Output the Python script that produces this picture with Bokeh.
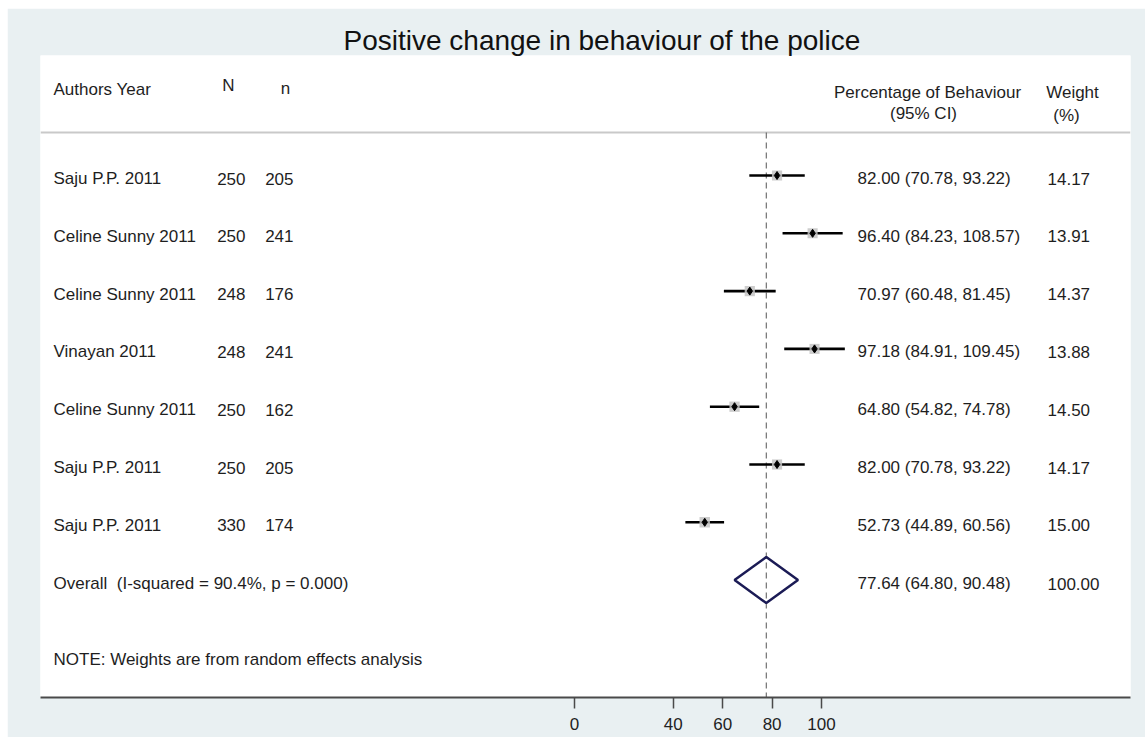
from bokeh.plotting import figure
from bokeh.models import Range1d, FixedTicker, ColumnDataSource
from bokeh.core.properties import value
from bokeh.embed import file_html
from bokeh.resources import INLINE

# ---------------- data ----------------
authors = ["Saju P.P. 2011", "Celine Sunny 2011", "Celine Sunny 2011", "Vinayan 2011",
           "Celine Sunny 2011", "Saju P.P. 2011", "Saju P.P. 2011"]
N_total = [250, 250, 248, 248, 250, 250, 330]
n_event = [205, 241, 176, 241, 162, 205, 174]
estimate = [82.00, 96.40, 70.97, 97.18, 64.80, 82.00, 52.73]
ci_low = [70.78, 84.23, 60.48, 84.91, 54.82, 70.78, 44.89]
ci_high = [93.22, 108.57, 81.45, 109.45, 74.78, 93.22, 60.56]
weights = [14.17, 13.91, 14.37, 13.88, 14.50, 14.17, 15.00]
overall_est = 77.64
overall_low = 64.80
overall_high = 90.48
overall_weight = 100.00
i_squared = 90.4
p_value = 0.000
x_ticks = [0, 40, 60, 80, 100]

title = "Positive change in behaviour of the police"
note = "NOTE: Weights are from random effects analysis"

# ---------------- layout helpers ----------------
FONT = value("Liberation Sans")
PX0, PXU = 574.0, 2.47          # page x of value 0, px per unit
ROW0, ROWH = 175.0, 57.8        # page y of first row, row pitch
FR_L, FR_R, FR_T, FR_B = 40, 1130, 55, 697
ML, MT = 7, 8                   # white strip (margin)
W, H = 1145 - ML, 737 - MT

def xd(px):
    return (px - PX0) / PXU

def yd(py):
    return (py - ROW0) / ROWH

p = figure(width=W, height=H, output_backend="svg", toolbar_location=None,
           x_range=Range1d(xd(FR_L), xd(FR_R)),
           y_range=Range1d(yd(FR_B), yd(FR_T)),
           y_axis_location=None, tools="")
p.margin = (MT, 0, 0, ML)
p.min_border_left = FR_L - ML
p.min_border_right = W - (FR_R - ML)
p.min_border_top = FR_T - MT
p.min_border_bottom = H - (FR_B - MT)
p.background_fill_color = "white"
p.border_fill_color = "#e9f0f2"
p.outline_line_color = None
p.xgrid.visible = False
p.ygrid.visible = False

# title
p.title.text = title
p.title.text_font = "Liberation Sans"
p.title.text_font_size = "28px"
p.title.text_font_style = "normal"
p.title.text_color = "#111111"
p.title.align = "left"
p.title.offset = 343 - FR_L
p.title.standoff = 0

# x axis
ax = p.xaxis[0]
ax.ticker = FixedTicker(ticks=x_ticks, minor_ticks=[])
ax.axis_line_color = "#4a4a4a"
ax.axis_line_width = 2
ax.major_tick_line_color = "#4a4a4a"
ax.major_tick_line_width = 1.5
ax.major_tick_out = 11
ax.major_tick_in = 0
ax.minor_tick_out = 0
ax.minor_tick_in = 0
ax.major_label_standoff = 9
ax.major_label_text_font = "Liberation Sans"
ax.major_label_text_font_size = "17px"
ax.major_label_text_color = "#222222"

rows = list(range(len(authors)))
overall_row = len(authors)
TXT = "#1e1e1e"
FS = "17px"

# header separator
p.segment(x0=[xd(FR_L)], y0=[yd(132)], x1=[xd(FR_R)], y1=[yd(132)],
          line_color="#c9c9c9", line_width=2)

# dashed line at overall estimate
p.segment(x0=[overall_est], y0=[yd(132)], x1=[overall_est], y1=[yd(FR_B)],
          line_color="#555555", line_width=1, line_dash="6 4")

# headers
def txt(x, y, s, align="left", size=FS, color=TXT):
    p.text(x=[x], y=[y], text=[s], text_font=FONT, text_font_size=size,
           text_color=color, text_align=align, text_baseline="middle")

txt(xd(53), yd(89), "Authors Year")
txt(xd(228), yd(85), "N", align="center")
txt(xd(285), yd(88), "n", align="center")
txt(xd(927), yd(92), "Percentage of Behaviour", align="center")
txt(xd(923), yd(113), "(95% CI)", align="center")
txt(xd(1072), yd(92), "Weight", align="center")
txt(xd(1066), yd(115), "(%)", align="center")

# study rows
src = ColumnDataSource(dict(
    row=rows,
    trow=[r + 3 / ROWH for r in rows],
    author=authors,
    N=[str(v) for v in N_total],
    n=[str(v) for v in n_event],
    est=estimate, lo=ci_low, hi=ci_high,
    ci=[f"{e:.2f} ({l:.2f}, {h:.2f})" for e, l, h in zip(estimate, ci_low, ci_high)],
    w=[f"{w:.2f}" for w in weights],
    box=[(w ** 0.5) * 2.7 for w in weights],
))

p.segment(x0="lo", y0="row", x1="hi", y1="row", source=src,
          line_color="black", line_width=2.6)
p.scatter(x="est", y="row", size="box", marker="square", source=src,
          fill_color="#c4c4c4", line_color=None, fill_alpha=0.85)
p.scatter(x="est", y="row", size=8, marker="diamond", source=src,
          fill_color="black", line_color="black")

p.text(x=xd(53), y="trow", text="author", source=src, text_font=FONT,
       text_font_size=FS, text_color=TXT, text_baseline="middle")
p.text(x=xd(245), y="trow", text="N", source=src, text_font=FONT,
       text_font_size=FS, text_color=TXT, text_baseline="middle", text_align="right")
p.text(x=xd(293), y="trow", text="n", source=src, text_font=FONT,
       text_font_size=FS, text_color=TXT, text_baseline="middle", text_align="right")
p.text(x=xd(857), y="trow", text="ci", source=src, text_font=FONT,
       text_font_size=FS, text_color=TXT, text_baseline="middle")
p.text(x=xd(1047), y="trow", text="w", source=src, text_font=FONT,
       text_font_size=FS, text_color=TXT, text_baseline="middle")

# overall diamond
dh = 23 / ROWH
p.patch(x=[overall_low, overall_est, overall_high, overall_est],
        y=[overall_row, overall_row - dh, overall_row, overall_row + dh],
        fill_color=None, line_color="#1b1b55", line_width=2.5)
oy = overall_row + 3.5 / ROWH
txt(xd(53), oy, f"Overall\u00a0 (I-squared = {i_squared:.1f}%, p = {p_value:.3f})")
txt(xd(857), oy, f"{overall_est:.2f} ({overall_low:.2f}, {overall_high:.2f})")
txt(xd(1047), oy, f"{overall_weight:.2f}")

# note
txt(xd(53), yd(659), note)

open("out.html", "w").write(file_html(p, INLINE))
